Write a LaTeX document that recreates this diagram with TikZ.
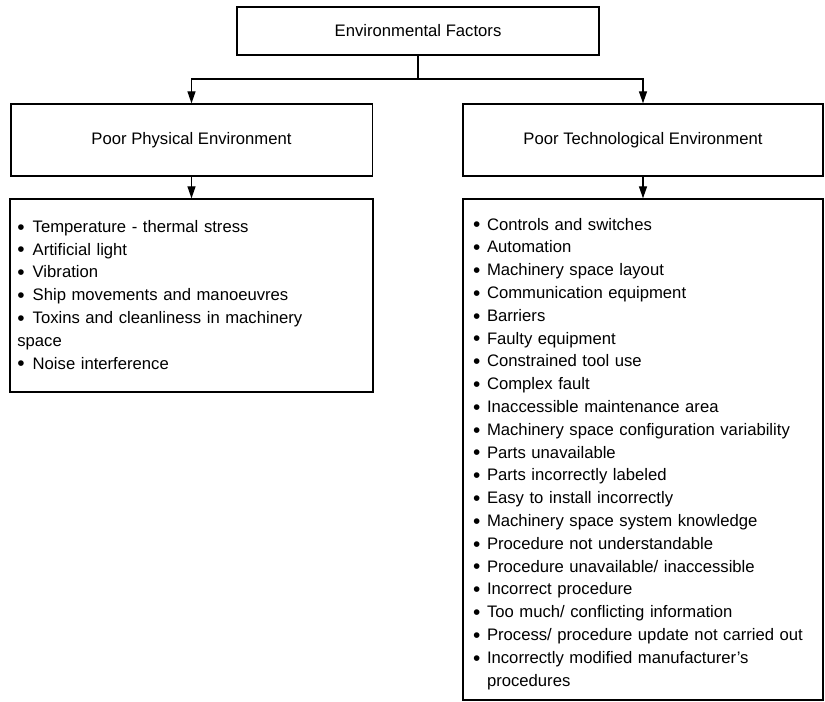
\documentclass[tikz,border=0pt]{standalone}
\usepackage{fontspec}
\setmainfont{Liberation Sans}
\usetikzlibrary{positioning,arrows.meta}
\newcommand{\bul}[2][10.5pt]{\mbox{\makebox[#1][l]{\raisebox{-0.2ex}{\scalebox{1.25}{\textbullet}}}#2}}

\begin{document}
\begin{tikzpicture}[x=0.75pt, y=-0.75pt, line width=1pt,
  font=\fontsize{12.5}{17.1}\selectfont,
  headbox/.style={draw, inner sep=0pt, minimum width=271.5pt, minimum height=36pt},
  catbox/.style={draw, inner sep=0pt, minimum width=271pt, minimum height=54pt},
  listbox/.style={draw, align=left, inner ysep=0pt},
  link/.style={-{Triangle[length=9pt, width=6pt]}}]
\useasboundingbox (0,0) rectangle (825,702);

% boxes
\node[headbox] (env) at (418,31) {Environmental Factors};
\node[catbox] (phys) at (191.5,140) {Poor Physical Environment};
\node[catbox, minimum width=270pt] (tech) at (643,140) {Poor Technological Environment};

\node[listbox, inner xsep=5.5pt, text width=261.25pt, minimum height=144.75pt] (physlist) at (191.5,295.5) {%
\bul[11.5pt]{Temperature - thermal stress}\\
\bul[11.5pt]{Artificial light}\\
\bul[11.5pt]{Vibration}\\
\bul[11.5pt]{Ship movements and manoeuvres}\\
\bul[11.5pt]{Toxins and cleanliness in machinery}\\
space\\
\bul[11.5pt]{Noise interference}};

\node[listbox, inner xsep=7.5pt, text width=255pt, minimum height=375.75pt] (techlist) at (643,449.5) {%
\rule{0pt}{15.5pt}\bul{Controls and switches}\\
\bul{Automation}\\
\bul{Machinery space layout}\\
\bul{Communication equipment}\\
\bul{Barriers}\\
\bul{Faulty equipment}\\
\bul{Constrained tool use}\\
\bul{Complex fault}\\
\bul{Inaccessible maintenance area}\\
\bul{Machinery space configuration variability}\\
\bul{Parts unavailable}\\
\bul{Parts incorrectly labeled}\\
\bul{Easy to install incorrectly}\\
\bul{Machinery space system knowledge}\\
\bul{Procedure not understandable}\\
\bul{Procedure unavailable/ inaccessible}\\
\bul{Incorrect procedure}\\
\bul{Too much/ conflicting information}\\
\bul{Process/ procedure update not carried out}\\
\bul{Incorrectly modified manufacturer's}\\
\hspace*{10.5pt}procedures};

% connectors
\coordinate (split) at (418,79);
\draw (env.south) -- (split);
\draw[link] (split) -| (phys.north);
\draw[link] (split) -| (tech.north);
\draw[link] (phys.south) -- (physlist.north);
\draw[link] (tech.south) -- (techlist.north);
\end{tikzpicture}
\end{document}
